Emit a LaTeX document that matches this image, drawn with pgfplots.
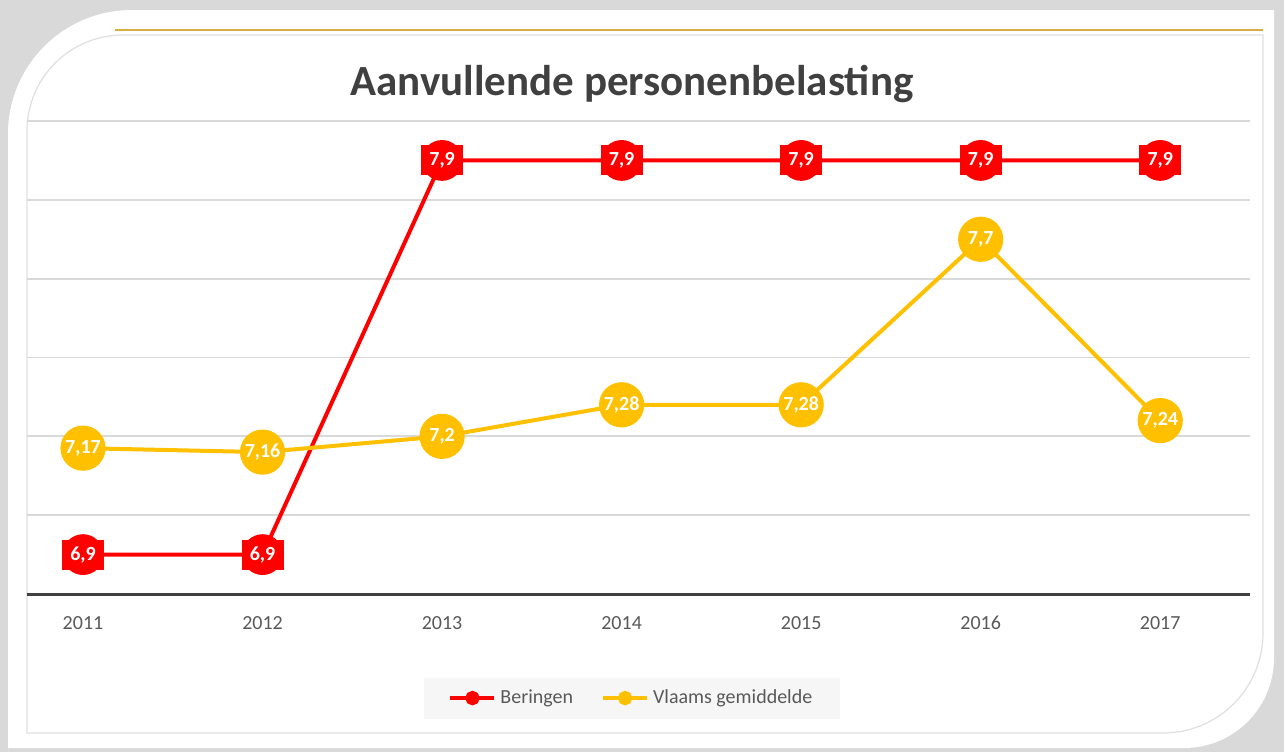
\documentclass[border=0pt]{standalone}
\usepackage{fontspec}
\setmainfont{Carlito}
\usepackage{pgfplots}
\pgfplotsset{compat=1.18}
\definecolor{bred}{HTML}{FF0000}
\definecolor{vyel}{HTML}{FFC000}
\definecolor{txtgray}{HTML}{595959}
\definecolor{titlegray}{HTML}{404040}
\definecolor{gridgray}{HTML}{D9D9D9}
\definecolor{axisgray}{HTML}{404040}
\definecolor{gold}{HTML}{D6AE45}
\definecolor{legbg}{HTML}{F6F6F6}

\begin{document}
\begin{tikzpicture}
% card and frame, in pixel units of the reference
\begin{scope}[x=0.5pt,y=-0.5pt]
\fill[gray!30] (0,0) rectangle (1284,752);
\fill[white] (8,752) [rounded corners=62pt] -- (8,10) [sharp corners] -- (1274,10)
  [rounded corners=45pt] -- (1274,748) [sharp corners] -- (8,748) -- cycle;
\draw[gray!25, line width=0.6pt] (27,733) [rounded corners=48pt] -- (27,35) [sharp corners] -- (1263,35)
  [rounded corners=50pt] -- (1263,733) [sharp corners] -- cycle;
\draw[gold, line width=1.2pt] (115,30) -- (1263,30);
\node[font=\bfseries\fontsize{21.5}{26}\selectfont, text=titlegray] at (632,84) {Aanvullende personenbelasting};
\end{scope}

\begin{axis}[
  at={(13.5pt,-297pt)}, anchor=south west,
  scale only axis, width=611.5pt, height=236.5pt,
  xmin=-0.312, xmax=6.5, ymin=6.8, ymax=8.0,
  xtick={0,1,2,3,4,5,6},
  xticklabels={2011,2012,2013,2014,2015,2016,2017},
  ytick={7,7.2,7.4,7.6,7.8,8}, yticklabels={},
  ymajorgrids, grid style={gridgray, line width=0.9pt},
  axis x line*=bottom, axis y line*=left,
  x axis line style={axisgray, line width=1.5pt, -},
  y axis line style={draw=none},
  major tick length=0pt,
  tick label style={font=\fontsize{10}{12}\selectfont, text=txtgray},
  xticklabel style={yshift=-7.5pt},
  clip=false,
  nodes near coords,
  every node near coord/.append style={font=\bfseries\fontsize{10}{12}\selectfont, text=white, anchor=center},
  /pgf/number format/.cd, use comma, fixed, precision=2, assume math mode=true, /pgfplots/.cd,
  legend columns=2,
  legend style={at={(0.495,-0.22)}, anchor=center, draw=none, fill=legbg,
    font=\fontsize{10}{12}\selectfont, text=txtgray, inner xsep=12pt, inner ysep=4pt,
    /tikz/every even column/.append style={column sep=12pt}},
  legend image code/.code={\draw[mark repeat=2,mark phase=2,#1,mark size=2.6pt]
    plot coordinates {(0pt,0pt) (11pt,0pt) (22pt,0pt)};},
]
\addplot[bred, line width=2pt, mark=*, mark size=9.2pt, mark options={fill=bred, draw=none},
  every node near coord/.append style={fill=bred, minimum width=21pt, minimum height=15pt, inner sep=0pt}]
  coordinates {(0,6.9) (1,6.9) (2,7.9) (3,7.9) (4,7.9) (5,7.9) (6,7.9)};
\addlegendentry{Beringen}
\addplot[vyel, line width=2pt, mark=*, mark size=10.3pt, mark options={fill=vyel, draw=none}]
  coordinates {(0,7.17) (1,7.16) (2,7.2) (3,7.28) (4,7.28) (5,7.7) (6,7.24)};
\addlegendentry{Vlaams gemiddelde}
\end{axis}
\end{tikzpicture}
\end{document}
